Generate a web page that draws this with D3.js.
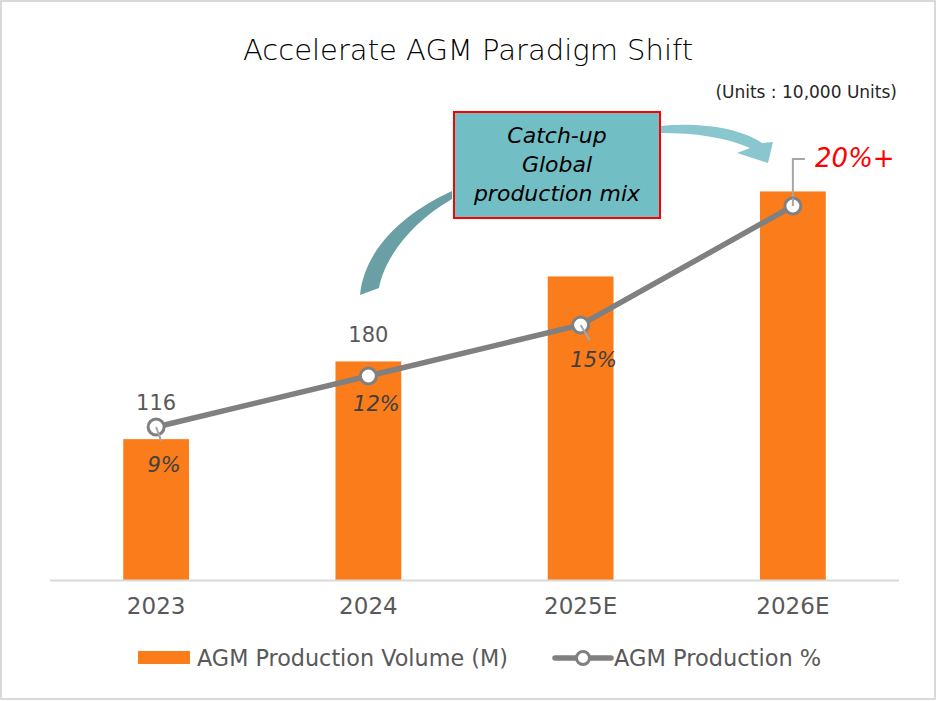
<!DOCTYPE html>
<html>
<head>
<meta charset="utf-8">
<script src="https://cdn.jsdelivr.net/npm/d3@7"></script>
<style>
  html, body { margin: 0; padding: 0; background: #fff; }
  svg { display: block; font-family: "DejaVu Sans", sans-serif; }
</style>
</head>
<body>
<svg id="chart" width="937" height="701"></svg>
<script>
// Chart data
const categories = ["2023", "2024", "2025E", "2026E"];
const volumeValues = [116, 180, 250, 320];          // AGM production volume (bars)
const shareValues = [9, 12, 15, 22];                // AGM production share, % (line)
const volumeLabels = ["116", "180", "", ""];
const shareLabels = ["9%", "12%", "15%", "20%+"];
const calloutLines = ["Catch-up", "Global", "production mix"];
const legendLabels = ["AGM Production Volume (M)", "AGM Production %"];

// Layout / styling
const W = 937, H = 701;
const plot = { left: 50, right: 899, top: 70, bottom: 580 };
const ORANGE = "#fa7c1a";
const LINE_GRAY = "#808080";
const TEXT_GRAY = "#595959";

const svg = d3.select("#chart");

// frame
svg.append("rect")
  .attr("x", 1).attr("y", 1).attr("width", W - 3).attr("height", H - 3)
  .attr("fill", "#fff").attr("stroke", "#d9d9d9").attr("stroke-width", 2);

// title and units
svg.append("text")
  .attr("x", 468).attr("y", 60)
  .attr("text-anchor", "middle")
  .attr("font-size", 29).attr("font-weight", 200).attr("fill", "#000")
  .text("Accelerate AGM Paradigm Shift");
svg.append("text")
  .attr("x", 897).attr("y", 98)
  .attr("text-anchor", "end")
  .attr("font-size", 17).attr("fill", "#262626")
  .text("(Units : 10,000 Units)");

// scales
const x = d3.scaleBand().domain(categories)
  .range([plot.left, plot.right]).paddingInner(0.69).paddingOuter(0.345);
const yVol = d3.scaleLinear().domain([0, 420]).range([plot.bottom, plot.top]);
const yShare = d3.scaleLinear().domain([0, 30]).range([plot.bottom, plot.top]);

// bars
svg.append("g").selectAll("rect")
  .data(categories)
  .join("rect")
  .attr("x", d => x(d))
  .attr("width", x.bandwidth())
  .attr("y", (d, i) => yVol(volumeValues[i]))
  .attr("height", (d, i) => yVol(0) - yVol(volumeValues[i]))
  .attr("fill", ORANGE);

// category axis
const xAxis = svg.append("g")
  .attr("transform", `translate(0,${plot.bottom})`)
  .call(d3.axisBottom(x).tickSize(0).tickPadding(18));
xAxis.select(".domain")
  .attr("d", `M${plot.left},0.5H${plot.right}`)
  .attr("stroke", "#d9d9d9").attr("stroke-width", 2);
xAxis.selectAll("text")
  .attr("font-size", 23).attr("fill", TEXT_GRAY)
  .attr("font-family", "\"DejaVu Sans\", sans-serif");

// volume labels
const volOffsets = [[0, -29], [0, -19], [0, 0], [0, 0]];
svg.append("g").selectAll("text")
  .data(categories)
  .join("text")
  .attr("x", (d, i) => x(d) + x.bandwidth() / 2 + volOffsets[i][0])
  .attr("y", (d, i) => yVol(volumeValues[i]) + volOffsets[i][1])
  .attr("text-anchor", "middle")
  .attr("font-size", 21).attr("fill", TEXT_GRAY)
  .text((d, i) => volumeLabels[i]);

const cx = d => x(d) + x.bandwidth() / 2;

// leader lines for share labels
const leaderG = svg.append("g").attr("stroke", "#a6a6a6").attr("stroke-width", 2).attr("fill", "none");
const leaderEnds = [[5, 14], [0, 0], [9, 15], null];
categories.forEach((c, i) => {
  const px = cx(c), py = yShare(shareValues[i]);
  if (i === 3) {
    leaderG.append("path").attr("d", `M${px},${py} V${py - 47} H${px + 12}`);
  } else if (leaderEnds[i][0] || leaderEnds[i][1]) {
    leaderG.append("path").attr("d", `M${px},${py} L${px + leaderEnds[i][0]},${py + leaderEnds[i][1]}`);
  }
});

// share line
const line = d3.line()
  .x(d => cx(d.c))
  .y(d => yShare(d.v));
const shareData = categories.map((c, i) => ({ c, v: shareValues[i] }));
svg.append("path")
  .datum(shareData)
  .attr("d", line)
  .attr("fill", "none")
  .attr("stroke", LINE_GRAY).attr("stroke-width", 5.5);
svg.append("g").selectAll("circle")
  .data(shareData)
  .join("circle")
  .attr("cx", d => cx(d.c))
  .attr("cy", d => yShare(d.v))
  .attr("r", 8)
  .attr("fill", "#fff")
  .attr("stroke", LINE_GRAY).attr("stroke-width", 3);

// leader lines sit over the marker face
categories.forEach((c, i) => {
  const px = cx(c), py = yShare(shareValues[i]);
  if (i === 3) {
    svg.append("path").attr("d", `M${px},${py} V${py - 8}`)
      .attr("stroke", "#a6a6a6").attr("stroke-width", 2);
  } else if (leaderEnds[i][0] || leaderEnds[i][1]) {
    svg.append("path").attr("d", `M${px},${py} L${px + leaderEnds[i][0]},${py + leaderEnds[i][1]}`)
      .attr("stroke", "#a6a6a6").attr("stroke-width", 2);
  }
});

// share labels
const shareOffsets = [[8, 45], [8, 35], [13, 42], [62, -39]];
svg.append("g").selectAll("text")
  .data(shareData)
  .join("text")
  .attr("x", (d, i) => cx(d.c) + shareOffsets[i][0])
  .attr("y", (d, i) => yShare(d.v) + shareOffsets[i][1])
  .attr("text-anchor", "middle")
  .attr("font-style", "italic")
  .attr("font-size", (d, i) => i === 3 ? 26 : 21)
  .attr("fill", (d, i) => i === 3 ? "#ff0000" : "#404040")
  .text((d, i) => shareLabels[i]);

// callout arrows
svg.append("path")
  .attr("d", "M452,191 C410,210 365,245 360,295 L379,288 C385,255 415,220 452,199 Z")
  .attr("fill", "#6a9fa6");
svg.append("path")
  .attr("d", "M660,126 C700,122 740,128 762,143 L773,142 L768,163 L737,153 L750,148 C725,137 695,133 660,133 Z")
  .attr("fill", "#8ac6ce");

// callout box
svg.append("rect")
  .attr("x", 454).attr("y", 112).attr("width", 206).attr("height", 106)
  .attr("fill", "#72bec5").attr("stroke", "#ff0000").attr("stroke-width", 2);
svg.append("g").selectAll("text")
  .data(calloutLines)
  .join("text")
  .attr("x", 557)
  .attr("y", (d, i) => 143 + i * 29)
  .attr("text-anchor", "middle")
  .attr("font-style", "italic")
  .attr("font-size", 22).attr("fill", "#000")
  .text(d => d);

// legend
const lg = svg.append("g");
lg.append("rect").attr("x", 138).attr("y", 651).attr("width", 52).attr("height", 13).attr("fill", ORANGE);
lg.append("text").attr("x", 197).attr("y", 666).attr("font-size", 22.3).attr("fill", TEXT_GRAY).text(legendLabels[0]);
lg.append("path").attr("d", "M555,658H611").attr("stroke", LINE_GRAY).attr("stroke-width", 5.5).attr("stroke-linecap", "round");
lg.append("circle").attr("cx", 583).attr("cy", 658).attr("r", 6.5).attr("fill", "#fff").attr("stroke", LINE_GRAY).attr("stroke-width", 3);
lg.append("text").attr("x", 614).attr("y", 666).attr("font-size", 22.5).attr("fill", TEXT_GRAY).text(legendLabels[1]);
</script>
</body>
</html>
